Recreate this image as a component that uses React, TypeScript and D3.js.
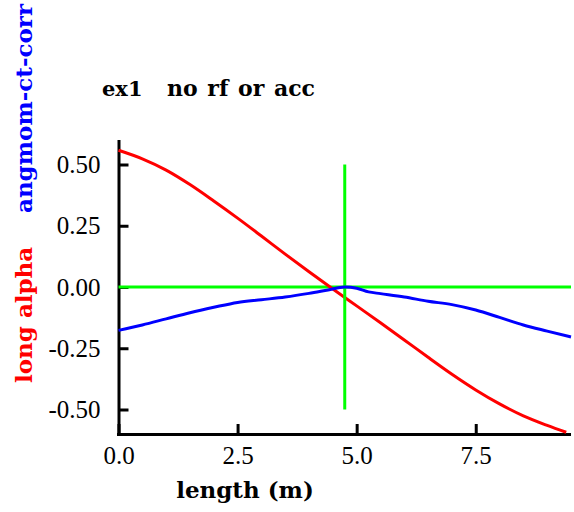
import React, { useEffect, useRef } from "react";
import * as d3 from "d3";

// long alpha (red)
const redX = [0, 0.5, 1, 1.5, 2, 2.5, 3, 3.5, 4, 4.5, 5, 5.5, 6, 6.5, 7, 7.5, 8, 8.5, 9, 9.4];
const redY = [0.558, 0.523, 0.477, 0.418, 0.351, 0.281, 0.208, 0.134, 0.062, -0.008, -0.077, -0.146, -0.216, -0.287, -0.356, -0.42, -0.477, -0.526, -0.565, -0.593];

// angmom-ct-corr (blue)
const blueX = [0, 0.5, 1, 1.5, 2, 2.5, 3, 3.5, 4, 4.4, 4.75, 5, 5.25, 5.5, 6, 6.5, 7, 7.5, 8, 8.5, 9, 9.5];
const blueY = [-0.177, -0.155, -0.13, -0.105, -0.083, -0.063, -0.052, -0.041, -0.026, -0.012, 0.0, -0.005, -0.02, -0.027, -0.041, -0.058, -0.072, -0.094, -0.124, -0.155, -0.18, -0.204];

// green cross hairs
const hLineX = [0, 9.5];
const hLineY = [0, 0];
const vLineX = [4.75, 4.75];
const vLineY = [-0.5, 0.5];

const xTicks = [0, 2.5, 5, 7.5];
const yTicks = [-0.5, -0.25, 0, 0.25, 0.5];
const xDomain = [0, 9.5];
const yDomain = [-0.6, 0.6];

const W = 574,
  H = 512;
const margin = { top: 140, right: 3, bottom: 78, left: 118.5 };

const tickFont = "'Liberation Serif', serif";
const boldFont = "'DejaVu Serif', serif";

const zip = (xs: number[], ys: number[]) => xs.map((x, i) => [x, ys[i]] as [number, number]);

export default function App() {
  const ref = useRef<SVGSVGElement>(null);

  useEffect(() => {
    const svg = d3.select(ref.current);
    svg.selectAll("*").remove();

    const x = d3.scaleLinear().domain(xDomain).range([margin.left, W - margin.right]);
    const y = d3.scaleLinear().domain(yDomain).range([H - margin.bottom, margin.top]);

    // axes, ticks point inward
    const yAxis = d3
      .axisLeft(y)
      .tickValues(yTicks)
      .tickSizeInner(-10)
      .tickSizeOuter(0)
      .tickPadding(18)
      .tickFormat(d => (d as number).toFixed(2));
    const xAxis = d3
      .axisBottom(x)
      .tickValues(xTicks)
      .tickSizeInner(-10)
      .tickSizeOuter(0)
      .tickPadding(12)
      .tickFormat(d => (d as number).toFixed(1));

    const ya = svg.append("g").attr("transform", `translate(${margin.left},0)`).call(yAxis);
    const xa = svg.append("g").attr("transform", `translate(0,${H - margin.bottom})`).call(xAxis);

    [ya, xa].forEach(a => {
      a.attr("font-family", null);
      a.select(".domain").attr("stroke", "#000").attr("stroke-width", 3);
      a.selectAll(".tick line").attr("stroke", "#000").attr("stroke-width", 3);
      a.selectAll(".tick text")
        .attr("fill", "#000")
        .attr("font-family", tickFont)
        .attr("font-size", 25);
    });
    // make the two axis lines meet at the corner
    xa.select(".domain").attr("d", `M${margin.left - 1.5},0.5H${W - margin.right}`);
    ya.select(".domain").attr("d", `M0.5,${margin.top}V${H - margin.bottom + 2}`);

    const line = d3
      .line<[number, number]>()
      .x(d => x(d[0]))
      .y(d => y(d[1]));
    const smooth = d3
      .line<[number, number]>()
      .x(d => x(d[0]))
      .y(d => y(d[1]))
      .curve(d3.curveMonotoneX);

    const g = svg.append("g");

    g.append("path")
      .attr("d", line(zip(hLineX, hLineY)))
      .attr("fill", "none")
      .attr("stroke", "#00ff00")
      .attr("stroke-width", 3);

    g.append("path")
      .attr("d", smooth(zip(redX, redY)))
      .attr("fill", "none")
      .attr("stroke", "#ff0000")
      .attr("stroke-width", 3);

    g.append("path")
      .attr("d", line(zip(vLineX, vLineY)))
      .attr("fill", "none")
      .attr("stroke", "#00ff00")
      .attr("stroke-width", 3);

    g.append("path")
      .attr("d", smooth(zip(blueX, blueY)))
      .attr("fill", "none")
      .attr("stroke", "#0000ff")
      .attr("stroke-width", 3);

    const bold = (sel: any, size: number) =>
      sel.style("font-family", boldFont).style("font-weight", "bold").style("font-size", size + "px");

    bold(svg.append("text").attr("x", 102).attr("y", 96).text("ex1"), 21);
    bold(svg.append("text").attr("x", 167).attr("y", 96).attr("word-spacing", 2).text("no rf or acc"), 22);

    bold(svg.append("text").attr("x", 245).attr("y", 498).attr("text-anchor", "middle").text("length (m)"), 23);

    bold(
      svg
        .append("text")
        .attr("transform", "translate(31.7,383) rotate(-90)")
        .attr("fill", "#ff0000")
        .text("long alpha"),
      23
    );
    bold(
      svg
        .append("text")
        .attr("transform", "translate(31.7,213) rotate(-90)")
        .attr("fill", "#0000ff")
        .text("angmom-ct-corr"),
      23
    );
  }, []);

  return (
    <svg
      ref={ref}
      width={W}
      height={H}
      style={{ position: "absolute", left: 0, top: 0, background: "#fff" }}
    />
  );
}
